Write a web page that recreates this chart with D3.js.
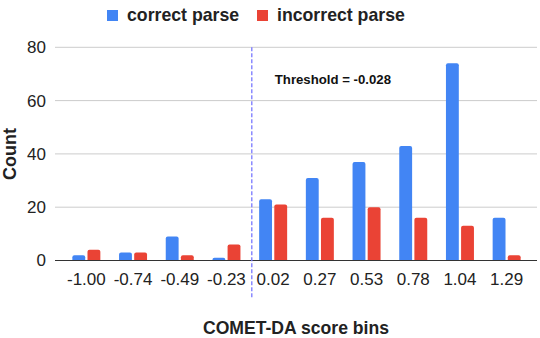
<!DOCTYPE html>
<html>
<head>
<meta charset="utf-8">
<script src="https://cdn.jsdelivr.net/npm/d3@7/dist/d3.min.js"></script>
<style>
  html, body { margin: 0; padding: 0; background: #fff; }
  svg { display: block; font-family: "Liberation Sans", Arial, sans-serif; }
</style>
</head>
<body>
<svg id="chart" width="540" height="338"></svg>
<script>
const categories = ["-1.00", "-0.74", "-0.49", "-0.23", "0.02", "0.27", "0.53", "0.78", "1.04", "1.29"];
const seriesNames = ["correct parse", "incorrect parse"];
const correctParse = [2, 3, 9, 1, 23, 31, 37, 43, 74, 16];
const incorrectParse = [4, 3, 2, 6, 21, 16, 20, 16, 13, 2];
const yTicks = [0, 20, 40, 60, 80];
const thresholdLabel = "Threshold = -0.028";
const colors = ["#4285F4", "#EA4335"];

const svg = d3.select("#chart");
const plot = { left: 55, right: 537, top: 47.3, bottom: 260.5 };

const x = d3.scaleBand().domain(categories).range([63, 530]).paddingInner(0).paddingOuter(0);
const groupW = 28;
const xs = d3.scaleBand().domain(seriesNames).range([-groupW / 2, groupW / 2]).paddingInner(0.15);
const y = d3.scaleLinear().domain([0, 80]).range([plot.bottom, plot.top]);

// gridlines
svg.append("g").selectAll("line").data(yTicks.filter(d => d > 0)).join("line")
  .attr("x1", plot.left).attr("x2", plot.right)
  .attr("y1", d => y(d)).attr("y2", d => y(d))
  .attr("stroke", "#cccccc").attr("stroke-width", 1);

// y tick labels
const yAxis = d3.axisLeft(y).tickValues(yTicks).tickSize(0).tickPadding(0);
const yg = svg.append("g").attr("transform", `translate(${plot.left - 9},0)`).call(yAxis);
yg.select(".domain").remove();
yg.selectAll("text").attr("font-size", 17).attr("fill", "#222").attr("font-family", "Liberation Sans, Arial, sans-serif");

// bars
const rows = categories.map((c, i) => ({ cat: c, vals: [correctParse[i], incorrectParse[i]] }));
function topRounded(x0, y0, w, h, r) {
  r = Math.min(r, w / 2, h);
  return `M${x0},${y0 + h}V${y0 + r}Q${x0},${y0} ${x0 + r},${y0}H${x0 + w - r}Q${x0 + w},${y0} ${x0 + w},${y0 + r}V${y0 + h}Z`;
}
const groups = svg.append("g").selectAll("g").data(rows).join("g")
  .attr("transform", d => `translate(${x(d.cat) + x.bandwidth() / 2},0)`);
groups.selectAll("path").data(d => d.vals.map((v, k) => ({ v, k }))).join("path")
  .attr("fill", d => colors[d.k])
  .attr("d", d => topRounded(xs(seriesNames[d.k]), y(d.v), xs.bandwidth(), y(0) - y(d.v), 2));

// baseline axis
svg.append("line").attr("x1", plot.left).attr("x2", plot.right)
  .attr("y1", y(0)).attr("y2", y(0)).attr("stroke", "#333").attr("stroke-width", 1.2);

// x tick labels
const xAxis = d3.axisBottom(x).tickSize(0).tickPadding(0);
const xg = svg.append("g").attr("transform", `translate(0,${y(0) + 12})`).call(xAxis);
xg.select(".domain").remove();
xg.selectAll("text").attr("font-size", 17).attr("fill", "#222").attr("font-family", "Liberation Sans, Arial, sans-serif");

// threshold line (just right of the boundary between bins -0.23 and 0.02)
const thrX = x(categories[4]) + 2;
svg.append("line").attr("x1", thrX).attr("x2", thrX)
  .attr("y1", plot.top).attr("y2", 299)
  .attr("stroke", "#7878ff").attr("stroke-width", 1.3).attr("stroke-dasharray", "4,2");
svg.append("text").attr("x", thrX + 23).attr("y", 84)
  .attr("font-size", 13.2).attr("font-weight", "bold").attr("fill", "#111")
  .text(thresholdLabel);

// axis titles
svg.append("text").attr("x", (plot.left + plot.right) / 2).attr("y", 334)
  .attr("text-anchor", "middle").attr("font-size", 17.6).attr("font-weight", "bold").attr("fill", "#222")
  .text("COMET-DA score bins");
svg.append("text").attr("transform", `translate(16,${(plot.top + plot.bottom) / 2}) rotate(-90)`)
  .attr("text-anchor", "middle").attr("font-size", 18).attr("font-weight", "bold").attr("fill", "#222")
  .text("Count");

// legend
const legendX = [107, 257];
const lg = svg.append("g").selectAll("g").data(seriesNames).join("g")
  .attr("transform", (d, i) => `translate(${legendX[i]},10)`);
lg.append("rect").attr("width", 11).attr("height", 11).attr("fill", (d, i) => colors[i]);
lg.append("text").attr("x", 20).attr("y", 11).attr("font-size", 17.7).attr("font-weight", "bold").attr("fill", "#222")
  .text(d => d);
</script>
</body>
</html>
